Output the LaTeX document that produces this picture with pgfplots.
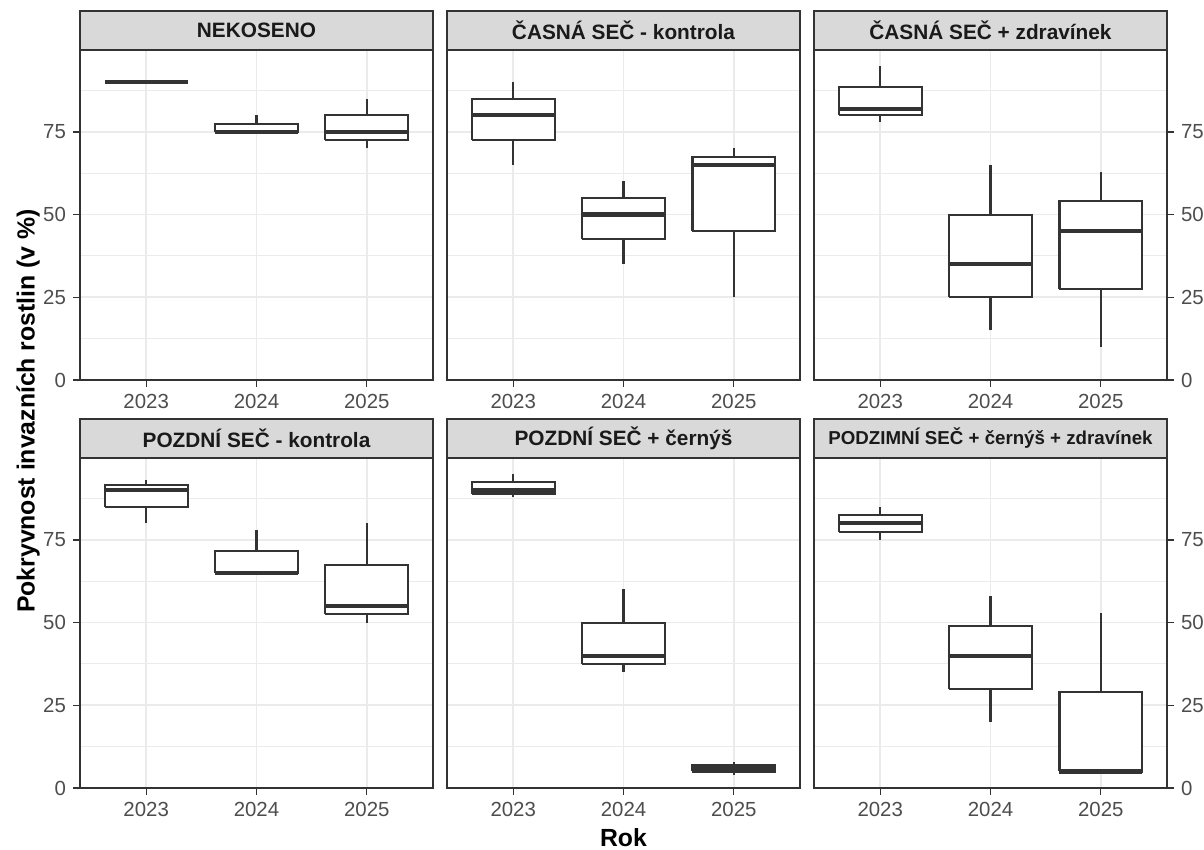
\documentclass[border=0pt]{standalone}
\usepackage{pgfplots}
\pgfplotsset{compat=1.18}
\usepackage{fontspec}
\setmainfont{Liberation Sans}
\definecolor{g10}{HTML}{1A1A1A}
\definecolor{g20}{HTML}{333333}
\definecolor{g30}{HTML}{4D4D4D}
\definecolor{g85}{HTML}{D9D9D9}
\definecolor{g92}{HTML}{EBEBEB}

\pgfplotsset{
  panel/.style={
    scale only axis, width=176.5pt, height=165pt, anchor=south west,
    xmin=0.4, xmax=3.6, ymin=0, ymax=99.75,
    xtick={1,2,3}, xticklabels={2023,2024,2025},
    ytick={0,25,50,75}, yticklabels={0,25,50,75},
    minor ytick={12.5,37.5,62.5,87.5},
    xmajorgrids=true, ymajorgrids=true, yminorgrids=true,
    major grid style={g92, line width=0.85pt},
    minor grid style={g92, line width=0.45pt},
    axis line style={g20, line width=0.65pt},
    tick align=outside, major tick length=3.5pt, minor tick length=0pt,
    tick style={g20, line width=0.65pt},
    tick label style={font=\fontsize{10.2}{12}\selectfont, text=g30},
    xtick pos=left,
    every axis plot/.append style={mark=none},
  },
  leftp/.style={panel, ytick pos=left},
  midp/.style={panel, ytick pos=left, yticklabels={}, ytick style={draw=none}},
  rightp/.style={panel, ytick pos=right, yticklabel pos=right},
}
% #1 left edge, #2 centre, #3 right edge, #4 lower whisker, #5 Q1, #6 median, #7 Q3, #8 upper whisker
\newcommand{\bx}[8]{%
  \addplot[g20, line width=1.05pt] coordinates {(#2,#4) (#2,#8)};
  \addplot[draw=g20, fill=white, line width=1.05pt, line join=miter] coordinates {(#1,#5) (#3,#5) (#3,#7) (#1,#7) (#1,#5)};
  \addplot[g20, line width=2.1pt] coordinates {(#1,#6) (#3,#6)};}
\newcommand{\strip}[3][10.4]{%
  \draw[g20, fill=g85, line width=0.65pt] (#2.north west) rectangle ([yshift=19.5pt]#2.north east);
  \node[font=\bfseries\fontsize{#1}{12}\selectfont, text=g10] at ([yshift=9.75pt]#2.north) {#3};}

\begin{document}
\begin{tikzpicture}
\useasboundingbox (0,0) rectangle (602pt,425pt);

% Row 1
\begin{axis}[leftp, name=a1, at={(40pt,235pt)}]
\bx{0.625}{1}{1.375}{90}{90}{90}{90}{90}
\bx{1.625}{2}{2.375}{75}{75}{75}{77.5}{80}
\bx{2.625}{3}{3.375}{70}{72.5}{75}{80}{85}
\end{axis}
\strip{a1}{NEKOSENO}

\begin{axis}[midp, name=a2, at={(223.5pt,235pt)}]
\bx{0.625}{1}{1.375}{65}{72.5}{80}{85}{90}
\bx{1.625}{2}{2.375}{35}{42.5}{50}{55}{60}
\bx{2.625}{3}{3.375}{25}{45}{65}{67.5}{70}
\end{axis}
\strip{a2}{ČASNÁ SEČ - kontrola}

\begin{axis}[rightp, name=a3, at={(407pt,235pt)}]
\bx{0.625}{1}{1.375}{78}{80}{82}{88.5}{95}
\bx{1.625}{2}{2.375}{15}{25}{35}{50}{65}
\bx{2.625}{3}{3.375}{10}{27.5}{45}{54}{63}
\end{axis}
\strip{a3}{ČASNÁ SEČ + zdravínek}

% Row 2
\begin{axis}[leftp, name=a4, at={(40pt,31pt)}]
\bx{0.625}{1}{1.375}{80}{85}{90}{91.5}{93}
\bx{1.625}{2}{2.375}{65}{65}{65}{71.5}{78}
\bx{2.625}{3}{3.375}{50}{52.5}{55}{67.5}{80}
\end{axis}
\strip{a4}{POZDNÍ SEČ - kontrola}

\begin{axis}[midp, name=a5, at={(223.5pt,31pt)}]
\bx{0.625}{1}{1.375}{88}{89}{90}{92.5}{95}
\bx{1.625}{2}{2.375}{35}{37.5}{40}{50}{60}
\bx{2.625}{3}{3.375}{4}{5}{6}{7}{8}
\end{axis}
\strip{a5}{POZDNÍ SEČ + černýš}

\begin{axis}[rightp, name=a6, at={(407pt,31pt)}]
\bx{0.625}{1}{1.375}{75}{77.5}{80}{82.5}{85}
\bx{1.625}{2}{2.375}{20}{30}{40}{49}{58}
\bx{2.625}{3}{3.375}{5}{5}{5}{29}{53}
\end{axis}
\strip[9.35]{a6}{PODZIMNÍ SEČ + černýš + zdravínek}

\node[rotate=90, font=\bfseries\fontsize{12.4}{14}\selectfont] at (14pt,219.5pt) {Pokryvnost invazních rostlin (v \%)};
\node[font=\bfseries\fontsize{12.4}{14}\selectfont] at (311.75pt,6pt) {Rok};
\end{tikzpicture}
\end{document}
